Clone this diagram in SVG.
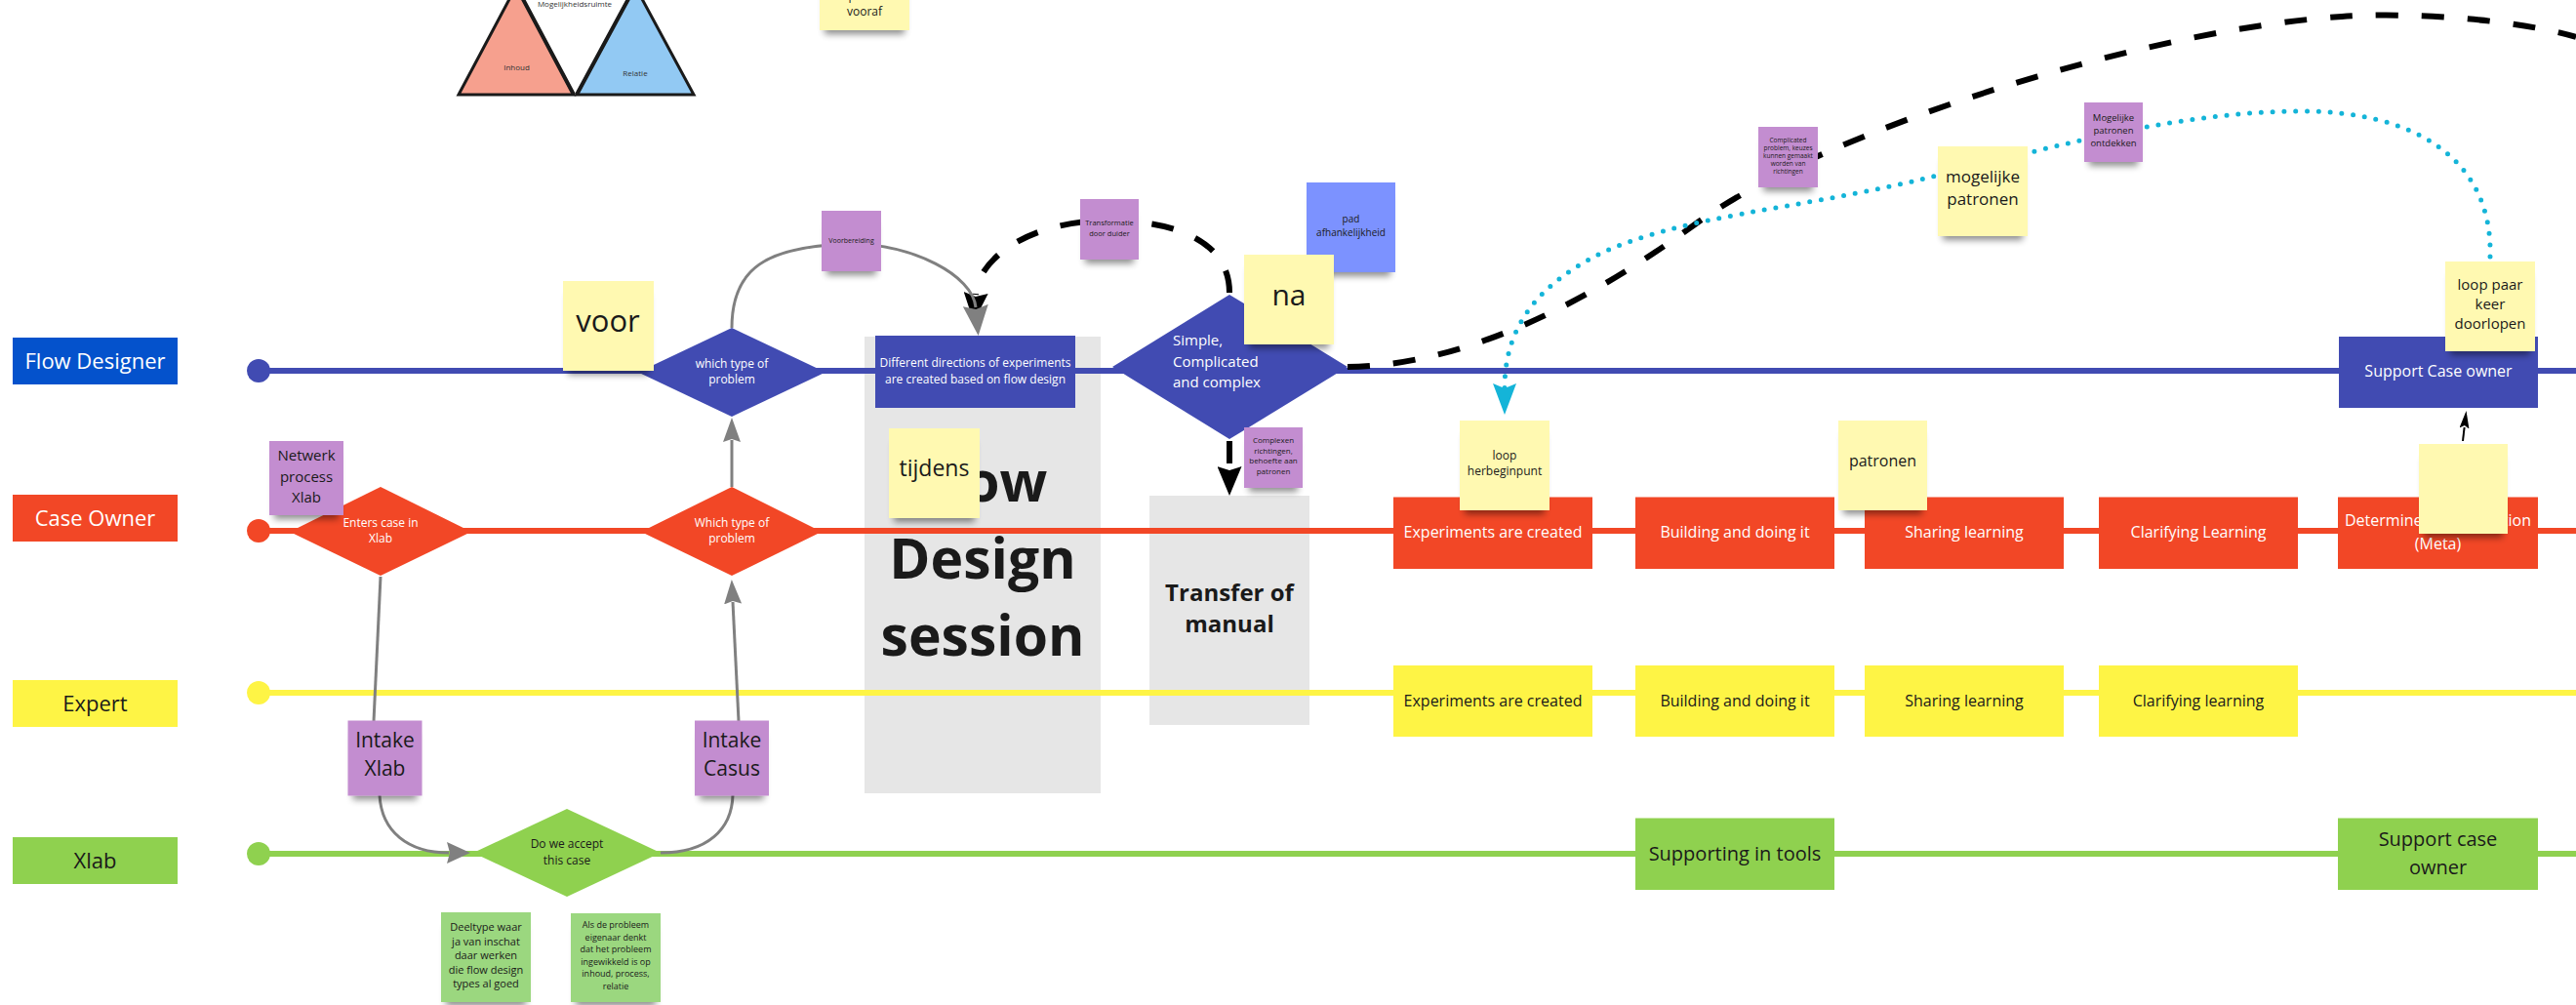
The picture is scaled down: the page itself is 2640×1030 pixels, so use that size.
<svg xmlns="http://www.w3.org/2000/svg" width="2640" height="1030" viewBox="0 0 2640 1030">
  <style>
    text { font-family: "Open Sans", "Liberation Sans", sans-serif; text-anchor: middle; }
    .w { fill: #ffffff; }
    .d { fill: #1a1a1a; }
    .b { font-weight: bold; }
    .lane { stroke-width: 6; fill: none; }
    .grey-con { stroke: #808080; stroke-width: 3; fill: none; }
    .dash { stroke: #000000; stroke-width: 6; fill: none; stroke-dasharray: 23 24; }
    .dots { stroke: #14b4d8; stroke-width: 5; fill: none; stroke-dasharray: 0 11.8; stroke-linecap: round; }
    .yel { fill: #fff9b1; }
    .pur { fill: #c38dd0; }
    .blu { fill: #7b92ff; }
    .grn { fill: #9bd77f; }
    .stk { filter: url(#stickyShadow); }
  </style>
  <defs>
    <filter id="stickyShadow" x="-20%" y="-20%" width="140%" height="150%">
      <feMorphology in="SourceAlpha" operator="erode" radius="5" result="e"/>
      <feOffset in="e" dy="9" result="o"/>
      <feGaussianBlur in="o" stdDeviation="3.5" result="b"/>
      <feComponentTransfer in="b" result="s"><feFuncA type="linear" slope="0.45"/></feComponentTransfer>
      <feMerge><feMergeNode in="s"/><feMergeNode in="SourceGraphic"/></feMerge>
    </filter>
    <marker id="arrGrey" viewBox="0 0 25 18" refX="2" refY="9" markerWidth="25" markerHeight="18" markerUnits="userSpaceOnUse" orient="auto">
      <path d="M0,0 L25,9 L0,18 L3,9 z" fill="#808080" stroke="none"/>
    </marker>
    <marker id="arrGreyM" viewBox="0 0 24 22" refX="2" refY="11" markerWidth="24" markerHeight="22" markerUnits="userSpaceOnUse" orient="auto">
      <path d="M0,0 L24,11 L0,22 L3,11 z" fill="#808080" stroke="none"/>
    </marker>
    <marker id="arrGreyL" viewBox="0 0 31 26" refX="2" refY="13" markerWidth="31" markerHeight="26" markerUnits="userSpaceOnUse" orient="auto">
      <path d="M0,0 L31,13 L0,26 L4,13 z" fill="#808080" stroke="none"/>
    </marker>
    <marker id="arrBlack" viewBox="0 0 30 25" refX="2" refY="12.5" markerWidth="30" markerHeight="25" markerUnits="userSpaceOnUse" orient="auto">
      <path d="M0,0 L30,12.5 L0,25 L4,12.5 z" fill="#000000" stroke="none"/>
    </marker>
    <marker id="arrCyan" viewBox="0 0 32 24" refX="5" refY="12" markerWidth="32" markerHeight="24" markerUnits="userSpaceOnUse" orient="auto">
      <path d="M0,0 L32,12 L0,24 L5,12 z" fill="#14b4d8" stroke="none"/>
    </marker>
    <marker id="arrSmall" viewBox="0 0 18 10" refX="1" refY="5" markerWidth="18" markerHeight="10" markerUnits="userSpaceOnUse" orient="auto">
      <path d="M0,0 L18,5 L0,10 L3,5 z" fill="#000000" stroke="none"/>
    </marker>
  </defs>

  <rect x="0" y="0" width="2640" height="1030" fill="#ffffff"/>

  <!-- triangle figure at the top -->
  <g id="triangles">
    <polygon points="470,97 529,-14 588,97" fill="#f6a08e" stroke="#1a1a1a" stroke-width="3" stroke-linejoin="miter"/>
    <polygon points="591,97 651,-14 711,97" fill="#92c9f3" stroke="#1a1a1a" stroke-width="3"/>
    <line x1="529" y1="-14" x2="588" y2="97" stroke="#1a1a1a" stroke-width="4"/>
    <line x1="591" y1="97" x2="651" y2="-14" stroke="#1a1a1a" stroke-width="4"/>
    <text x="589" y="7" font-size="8" fill="#333">Mogelijkheidsruimte</text>
    <text x="529.5" y="72" font-size="8" fill="#333">Inhoud</text>
    <text x="651" y="78" font-size="8" fill="#333">Relatie</text>
  </g>

  <!-- session blocks behind the lanes -->
  <g id="flow-design-session">
    <rect x="886" y="345" width="242" height="468" fill="#e6e6e6"/>
    <text class="d b" x="1007" y="514" font-size="57">Flow</text>
    <text class="d b" x="1007" y="593" font-size="57">Design</text>
    <text class="d b" x="1007" y="672" font-size="57">session</text>
  </g>
  <g id="transfer-of-manual">
    <rect x="1178" y="508" width="164" height="235" fill="#e6e6e6"/>
    <text class="d b" x="1260" y="616" font-size="24">Transfer of</text>
    <text class="d b" x="1260" y="648" font-size="24">manual</text>
  </g>

  <!-- swimlanes -->
  <g id="lanes">
    <line class="lane" x1="265" y1="380" x2="2640" y2="380" stroke="#414bb2"/>
    <circle cx="265" cy="380" r="12" fill="#414bb2"/>
    <line class="lane" x1="265" y1="544" x2="2640" y2="544" stroke="#f24726"/>
    <circle cx="265" cy="544" r="12" fill="#f24726"/>
    <line class="lane" x1="265" y1="710" x2="2640" y2="710" stroke="#fef445"/>
    <circle cx="265" cy="710" r="12" fill="#fef445"/>
    <line class="lane" x1="265" y1="875" x2="2640" y2="875" stroke="#8fd14f"/>
    <circle cx="265" cy="875" r="12" fill="#8fd14f"/>
  </g>

  <g id="label-flow-designer">
    <rect x="13" y="346" width="169" height="48" fill="#0452cc"/>
    <text class="w" x="97.5" y="378" font-size="22">Flow Designer</text>
  </g>
  <g id="label-case-owner">
    <rect x="13" y="507" width="169" height="48" fill="#f24726"/>
    <text class="w" x="97.5" y="539" font-size="22">Case Owner</text>
  </g>
  <g id="label-expert">
    <rect x="13" y="697" width="169" height="48" fill="#fef445"/>
    <text class="d" x="97.5" y="729" font-size="22">Expert</text>
  </g>
  <g id="label-xlab">
    <rect x="13" y="858" width="169" height="48" fill="#8fd14f"/>
    <text class="d" x="97.5" y="890" font-size="22">Xlab</text>
  </g>

  <!-- Flow Designer lane -->
  <g id="fd-which-type">
    <polygon points="750,336 846,381.5 750,427 654,381.5" fill="#414bb2"/>
    <text class="w" x="750" y="377" font-size="12">which type of</text>
    <text class="w" x="750" y="393" font-size="12">problem</text>
  </g>
  <g id="fd-different-directions">
    <rect x="897" y="344" width="205" height="74" fill="#414bb2"/>
    <text class="w" x="999.5" y="376" font-size="12">Different directions of experiments</text>
    <text class="w" x="999.5" y="393" font-size="12">are created based on flow design</text>
  </g>
  <g id="fd-simple-complicated">
    <polygon points="1260,302 1381,376 1260,450 1140,376" fill="#414bb2"/>
    <text class="w" x="1202" y="354" font-size="15" style="text-anchor:start">Simple,</text>
    <text class="w" x="1202" y="376" font-size="15" style="text-anchor:start">Complicated</text>
    <text class="w" x="1202" y="397" font-size="15" style="text-anchor:start">and complex</text>
  </g>
  <g id="fd-support-case-owner">
    <rect x="2397" y="345" width="204" height="73" fill="#414bb2"/>
    <text class="w" x="2499" y="386" font-size="16">Support Case owner</text>
  </g>

  <!-- Case Owner lane -->
  <g id="co-enters-case">
    <polygon points="390,499 483,545 390,590 297,545" fill="#f24726"/>
    <text class="w" x="390" y="540" font-size="12">Enters case in</text>
    <text class="w" x="390" y="556" font-size="12">Xlab</text>
  </g>
  <g id="co-which-type">
    <polygon points="750,499 842,545 750,590 657,545" fill="#f24726"/>
    <text class="w" x="750" y="540" font-size="12">Which type of</text>
    <text class="w" x="750" y="556" font-size="12">problem</text>
  </g>
  <g id="co-experiments">
    <rect x="1428" y="509.5" width="204" height="73.5" fill="#f24726"/>
    <text class="w" x="1530" y="551" font-size="16">Experiments are created</text>
  </g>
  <g id="co-building">
    <rect x="1676" y="509.5" width="204" height="73.5" fill="#f24726"/>
    <text class="w" x="1778" y="551" font-size="16">Building and doing it</text>
  </g>
  <g id="co-sharing">
    <rect x="1911" y="509.5" width="204" height="73.5" fill="#f24726"/>
    <text class="w" x="2013" y="551" font-size="16">Sharing learning</text>
  </g>
  <g id="co-clarifying">
    <rect x="2151" y="509.5" width="204" height="73.5" fill="#f24726"/>
    <text class="w" x="2253" y="551" font-size="16">Clarifying Learning</text>
  </g>
  <g id="co-determine">
    <rect x="2396" y="509.5" width="205" height="73.5" fill="#f24726"/>
    <text class="w" x="2403" y="539" font-size="16" style="text-anchor:start">Determine</text>
    <text class="w" x="2594" y="539" font-size="16" style="text-anchor:end">tion</text>
    <text class="w" x="2498.5" y="563" font-size="16">(Meta)</text>
  </g>

  <!-- Expert lane -->
  <g id="ex-experiments">
    <rect x="1428" y="682" width="204" height="73" fill="#fef445"/>
    <text class="d" x="1530" y="724" font-size="16">Experiments are created</text>
  </g>
  <g id="ex-building">
    <rect x="1676" y="682" width="204" height="73" fill="#fef445"/>
    <text class="d" x="1778" y="724" font-size="16">Building and doing it</text>
  </g>
  <g id="ex-sharing">
    <rect x="1911" y="682" width="204" height="73" fill="#fef445"/>
    <text class="d" x="2013" y="724" font-size="16">Sharing learning</text>
  </g>
  <g id="ex-clarifying">
    <rect x="2151" y="682" width="204" height="73" fill="#fef445"/>
    <text class="d" x="2253" y="724" font-size="16">Clarifying learning</text>
  </g>

  <!-- Xlab lane -->
  <g id="xl-accept">
    <polygon points="581,829 677,874 581,919 485,874" fill="#8fd14f"/>
    <text class="d" x="581" y="869" font-size="12">Do we accept</text>
    <text class="d" x="581" y="886" font-size="12">this case</text>
  </g>
  <g id="xl-supporting-tools">
    <rect x="1676" y="838.5" width="204" height="73.5" fill="#8fd14f"/>
    <text class="d" x="1778" y="882" font-size="20">Supporting in tools</text>
  </g>
  <g id="xl-support-case-owner">
    <rect x="2396" y="838.5" width="205" height="73.5" fill="#8fd14f"/>
    <text class="d" x="2498.5" y="867" font-size="20">Support case</text>
    <text class="d" x="2498.5" y="896" font-size="20">owner</text>
  </g>

  <!-- connectors -->
  <g id="connectors">
    <path class="grey-con" d="M750,499 L750,451" marker-end="url(#arrGrey)"/>
    <path class="grey-con" d="M757,739 L751,617" marker-end="url(#arrGrey)"/>
    <path class="grey-con" d="M390,591 L383,739"/>
    <path class="grey-con" d="M389,815 C391,852 418,874 460,874" marker-end="url(#arrGreyM)"/>
    <path class="grey-con" d="M677,874 C725,874 750,850 751,815"/>
    <path class="dash" d="M1260,300 C1260,250 1210,226 1135,226 C1060,226 1003,262 1000,302" marker-end="url(#arrBlack)"/>
    <path class="grey-con" d="M750,336 C750,275 785,252 872,250 C935,250 997,282 1000,315" marker-end="url(#arrGreyL)"/>
    <path class="dash" d="M1260,452 L1260,480" marker-end="url(#arrBlack)"/>
    <path class="dash" d="M1381,376 C1480,375 1600,330 1737,230 C1870,133 2200,30 2400,17 C2470,12 2580,20 2640,38"/>
    <path class="dots" d="M2552,263 C2555,160 2470,114 2360,114 C2220,114 2080,158 1960,186 C1840,214 1720,222 1640,260 C1570,295 1542,340 1542,398" marker-end="url(#arrCyan)"/>
    <path d="M2524,452 L2525.6,438" stroke="#000" stroke-width="2" fill="none" marker-end="url(#arrSmall)"/>
  </g>

  <!-- sticky notes -->
  <g id="note-vooraf">
    <rect class="yel stk" x="840" y="-61" width="92" height="92"/>
    <text class="d" x="886" y="0" font-size="12">het probleem</text>
    <text class="d" x="886" y="16" font-size="12">vooraf</text>
  </g>
  <g id="note-voor">
    <rect class="yel stk" x="577" y="288" width="93" height="92"/>
    <text class="d" x="623" y="340" font-size="31">voor</text>
  </g>
  <g id="note-voorbereiding">
    <rect class="pur stk" x="842" y="216" width="61" height="62"/>
    <text class="d" x="872.5" y="249" font-size="7">Voorbereiding</text>
  </g>
  <g id="note-transformatie">
    <rect class="pur stk" x="1107" y="204" width="60" height="62"/>
    <text class="d" x="1137" y="231" font-size="7.5">Transformatie</text>
    <text class="d" x="1137" y="242" font-size="7.5">door duider</text>
  </g>
  <g id="note-pad">
    <rect class="blu stk" x="1339" y="187" width="91" height="92"/>
    <text class="d" x="1384.5" y="228" font-size="10">pad</text>
    <text class="d" x="1384.5" y="242" font-size="10">afhankelijkheid</text>
  </g>
  <g id="note-na">
    <rect class="yel stk" x="1275" y="261" width="92" height="92"/>
    <text class="d" x="1321" y="313" font-size="30">na</text>
  </g>
  <g id="note-complexen">
    <rect class="pur stk" x="1275" y="438" width="60" height="62"/>
    <text class="d" x="1305" y="454" font-size="8">Complexen</text>
    <text class="d" x="1305" y="465" font-size="8">richtingen,</text>
    <text class="d" x="1305" y="475" font-size="8">behoefte aan</text>
    <text class="d" x="1305" y="486" font-size="8">patronen</text>
  </g>
  <g id="note-tijdens">
    <rect class="yel stk" x="911" y="439" width="93" height="92"/>
    <text class="d" x="957.5" y="488" font-size="23">tijdens</text>
  </g>
  <g id="note-netwerk">
    <rect class="pur stk" x="276" y="452" width="76" height="76"/>
    <text class="d" x="314" y="472" font-size="15">Netwerk</text>
    <text class="d" x="314" y="494" font-size="15">process</text>
    <text class="d" x="314" y="515" font-size="15">Xlab</text>
  </g>
  <g id="note-intake-xlab">
    <rect class="pur stk" x="356.5" y="738.5" width="76" height="77"/>
    <text class="d" x="394.5" y="766" font-size="21">Intake</text>
    <text class="d" x="394.5" y="795" font-size="21">Xlab</text>
  </g>
  <g id="note-intake-casus">
    <rect class="pur stk" x="712" y="738.5" width="76" height="77"/>
    <text class="d" x="750" y="766" font-size="21">Intake</text>
    <text class="d" x="750" y="795" font-size="21">Casus</text>
  </g>
  <g id="note-deeltype">
    <rect class="grn stk" x="452" y="935" width="92" height="92"/>
    <text class="d" x="498" y="954" font-size="11">Deeltype waar</text>
    <text class="d" x="498" y="968.5" font-size="11">ja van inschat</text>
    <text class="d" x="498" y="983" font-size="11">daar werken</text>
    <text class="d" x="498" y="997.5" font-size="11">die flow design</text>
    <text class="d" x="498" y="1012" font-size="11">types al goed</text>
  </g>
  <g id="note-als-de-probleem">
    <rect class="grn stk" x="585" y="936" width="92" height="91"/>
    <text class="d" x="631" y="951" font-size="9">Als de probleem</text>
    <text class="d" x="631" y="963.5" font-size="9">eigenaar denkt</text>
    <text class="d" x="631" y="976" font-size="9">dat het probleem</text>
    <text class="d" x="631" y="988.5" font-size="9">ingewikkeld is op</text>
    <text class="d" x="631" y="1001" font-size="9">inhoud, process,</text>
    <text class="d" x="631" y="1013.5" font-size="9">relatie</text>
  </g>
  <g id="note-loop-herbeginpunt">
    <rect class="yel stk" x="1496" y="431" width="92" height="92"/>
    <text class="d" x="1542" y="471" font-size="12">loop</text>
    <text class="d" x="1542" y="487" font-size="12">herbeginpunt</text>
  </g>
  <g id="note-patronen">
    <rect class="yel stk" x="1884" y="431" width="91" height="92"/>
    <text class="d" x="1929.5" y="478" font-size="16">patronen</text>
  </g>
  <g id="note-blank">
    <rect class="yel stk" x="2479" y="455" width="91" height="92"/>
  </g>
  <g id="note-loop-paar-keer">
    <rect class="yel stk" x="2506" y="268" width="92" height="92"/>
    <text class="d" x="2552" y="297" font-size="15">loop paar</text>
    <text class="d" x="2552" y="317" font-size="15">keer</text>
    <text class="d" x="2552" y="337" font-size="15">doorlopen</text>
  </g>
  <g id="note-mogelijke-patronen">
    <rect class="yel stk" x="1986" y="150" width="92" height="92"/>
    <text class="d" x="2032" y="187" font-size="17">mogelijke</text>
    <text class="d" x="2032" y="210" font-size="17">patronen</text>
  </g>
  <g id="note-patronen-ontdekken">
    <rect class="pur stk" x="2136" y="105" width="60" height="61"/>
    <text class="d" x="2166" y="124" font-size="9.5">Mogelijke</text>
    <text class="d" x="2166" y="137" font-size="9.5">patronen</text>
    <text class="d" x="2166" y="150" font-size="9.5">ontdekken</text>
  </g>
  <g id="note-complicated-problem">
    <rect class="pur stk" x="1802" y="130" width="61" height="62"/>
    <text class="d" x="1832.5" y="146" font-size="6.5">Complicated</text>
    <text class="d" x="1832.5" y="154" font-size="6.5">problem, keuzes</text>
    <text class="d" x="1832.5" y="162" font-size="6.5">kunnen gemaakt</text>
    <text class="d" x="1832.5" y="170" font-size="6.5">worden van</text>
    <text class="d" x="1832.5" y="178" font-size="6.5">richtingen</text>
  </g>
</svg>
